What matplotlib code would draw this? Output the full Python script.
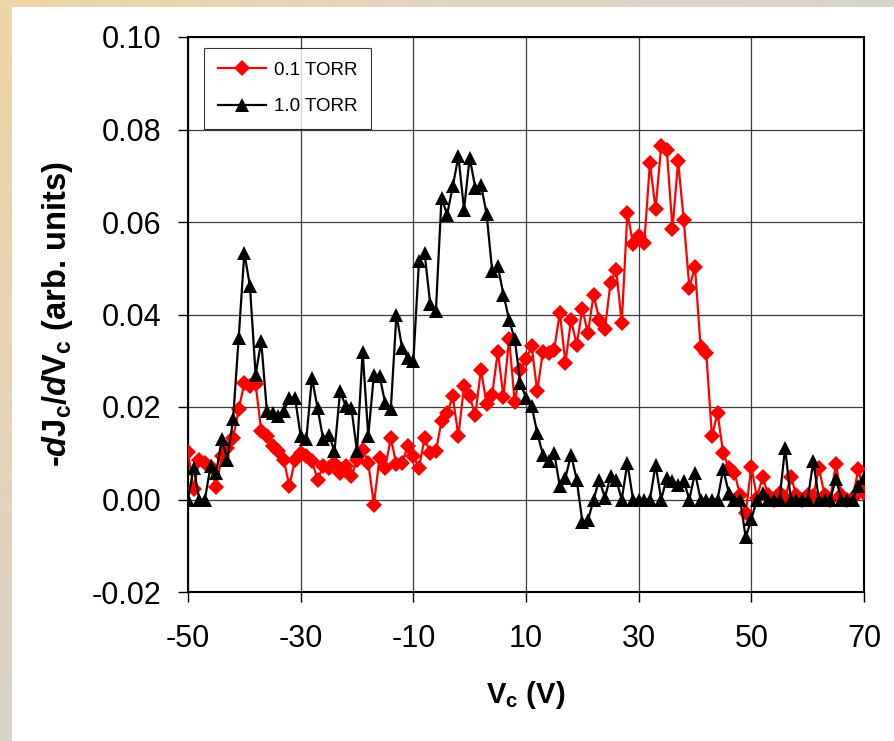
import numpy as np
import matplotlib
matplotlib.use("Agg")
import matplotlib.pyplot as plt
from matplotlib.colors import LinearSegmentedColormap

# ---------------- data ----------------
voltage = list(range(-50, 71))

torr_01 = [
    0.0102, 0.0022, 0.0086, 0.0079, 0.0070, 0.0027, 0.0094, 0.0112, 0.0133, 0.0195,   # -50..-41
    0.0251, 0.0245, 0.0250, 0.0148, 0.0137, 0.0115, 0.0104, 0.0086, 0.0029, 0.0086,   # -40..-31
    0.0101, 0.0094, 0.0083, 0.0043, 0.0072, 0.0068, 0.0079, 0.0058, 0.0072, 0.0050,   # -30..-21
    0.0086, 0.0108, 0.0079, -0.0011, 0.0090, 0.0068, 0.0133, 0.0076, 0.0079, 0.0115,  # -20..-11
    0.0094, 0.0068, 0.0133, 0.0101, 0.0104, 0.0169, 0.0187, 0.0223, 0.0137, 0.0245,   # -10..-1
    0.0223, 0.0182, 0.0281, 0.0207, 0.0227, 0.0320, 0.0222, 0.0348, 0.0210, 0.0281,   # 0..9
    0.0303, 0.0331, 0.0234, 0.0320, 0.0317, 0.0324, 0.0404, 0.0296, 0.0389, 0.0334,   # 10..19
    0.0412, 0.0359, 0.0443, 0.0389, 0.0368, 0.0468, 0.0497, 0.0382, 0.0620, 0.0553,   # 20..29
    0.0569, 0.0555, 0.0728, 0.0628, 0.0764, 0.0755, 0.0585, 0.0731, 0.0605, 0.0458,   # 30..39
    0.0503, 0.0329, 0.0317, 0.0137, 0.0187, 0.0101, 0.0068, 0.0058, 0.0010, -0.0029,  # 40..49
    0.0071, 0.0004, 0.0049, 0.0010, 0.0000, 0.0014, 0.0004, 0.0049, 0.0010, 0.0000,   # 50..59
    0.0010, 0.0007, 0.0068, 0.0010, 0.0000, 0.0076, 0.0010, 0.0000, 0.0004, 0.0065,   # 60..69
    0.0014,                                                                           # 70
]

torr_10 = [
    0.0000, 0.0069, 0.0000, 0.0000, 0.0072, 0.0058, 0.0130, 0.0086, 0.0173, 0.0350,   # -50..-41
    0.0533, 0.0461, 0.0270, 0.0342, 0.0191, 0.0188, 0.0180, 0.0191, 0.0220, 0.0220,   # -40..-31
    0.0137, 0.0130, 0.0263, 0.0198, 0.0130, 0.0140, 0.0104, 0.0234, 0.0202, 0.0198,   # -30..-21
    0.0104, 0.0320, 0.0137, 0.0270, 0.0267, 0.0209, 0.0195, 0.0400, 0.0328, 0.0306,   # -20..-11
    0.0299, 0.0515, 0.0533, 0.0422, 0.0407, 0.0652, 0.0616, 0.0677, 0.0742, 0.0627,   # -10..-1
    0.0739, 0.0674, 0.0681, 0.0618, 0.0494, 0.0504, 0.0443, 0.0389, 0.0346, 0.0252,   # 0..9
    0.0220, 0.0202, 0.0144, 0.0097, 0.0083, 0.0101, 0.0029, 0.0047, 0.0097, 0.0043,   # 10..19
    -0.0048, -0.0045, 0.0000, 0.0043, 0.0004, 0.0050, 0.0043, 0.0000, 0.0079, 0.0000, # 20..29
    0.0000, 0.0000, 0.0000, 0.0075, 0.0000, 0.0047, 0.0040, 0.0032, 0.0040, 0.0000,   # 30..39
    0.0058, 0.0000, 0.0000, 0.0000, 0.0000, 0.0065, 0.0015, 0.0000, 0.0000, -0.0082,  # 40..49
    -0.0043, 0.0000, 0.0015, 0.0000, 0.0000, 0.0000, 0.0112, 0.0000, 0.0000, 0.0000,  # 50..59
    0.0000, 0.0083, 0.0000, 0.0000, 0.0000, 0.0045, 0.0000, 0.0000, 0.0000, 0.0029,   # 60..69
    0.0047,                                                                           # 70
]

series_labels = ["0.1 TORR", "1.0 TORR"]
x_ticks = [-50, -30, -10, 10, 30, 50, 70]
y_ticks = [-0.02, 0.00, 0.02, 0.04, 0.06, 0.08, 0.10]
y_tick_labels = ["-0.02", "0.00", "0.02", "0.04", "0.06", "0.08", "0.10"]

# ---------------- style ----------------
plt.rcParams['font.family'] = ['Liberation Sans', 'DejaVu Sans']
plt.rcParams['axes.unicode_minus'] = False
plt.rcParams['mathtext.fontset'] = 'custom'
plt.rcParams['mathtext.rm'] = 'Liberation Sans:bold'
plt.rcParams['mathtext.bf'] = 'Liberation Sans:bold'
plt.rcParams['mathtext.it'] = 'Liberation Sans:bold:italic'

W, H = 894, 741
fig = plt.figure(figsize=(W / 100, H / 100), dpi=100, facecolor='white')

# decorative background strips
bg = fig.add_axes([0, 0, 1, 1], zorder=-10)
bg.set_xlim(0, W)
bg.set_ylim(H, 0)
bg.axis('off')
cm_left = LinearSegmentedColormap.from_list('l', ['#EDD5A6', '#E6D3B4', '#D9D3CB'])
cm_top = LinearSegmentedColormap.from_list('t', ['#EDD5A6', '#E2D6C2', '#D6D3CF'])
bg.imshow(np.linspace(0, 1, 256).reshape(-1, 1), extent=[0, 12, H, 0], cmap=cm_left, aspect='auto')
bg.imshow(np.linspace(0, 1, 256).reshape(1, -1), extent=[0, W, 7, 0], cmap=cm_top, aspect='auto')

ax = fig.add_axes([188 / W, 1 - 592 / H, 676 / W, 555 / H])
ax.set_facecolor('white')

ax.plot(voltage, torr_01, color='#FF0000', lw=1.6, marker='D', markersize=8.0,
        markeredgewidth=0, label=series_labels[0], zorder=3)
ax.plot(voltage, torr_10, color='black', lw=1.6, marker='^', markersize=10.5,
        markeredgewidth=0, label=series_labels[1], zorder=4)

ax.set_xlim(-50, 70)
ax.set_ylim(-0.02, 0.10)
ax.set_xticks(x_ticks)
ax.set_yticks(y_ticks)
ax.set_yticklabels(y_tick_labels)
ax.grid(True, color='#3c3c3c', lw=0.9)
ax.set_axisbelow(True)
for s in ax.spines.values():
    s.set_linewidth(1.5)
    s.set_color('black')
ax.tick_params(axis='both', direction='out', length=7, width=1.0, labelsize=22)
ax.tick_params(axis='y', pad=12)
ax.tick_params(axis='x', pad=16)

ax.set_xlabel(r'V$_{\mathrm{c}}$ (V)', fontsize=21, fontweight='bold', labelpad=18)
ax.set_ylabel(r'-$\mathit{d}$J$_{\mathrm{c}}$/$\mathit{d}$V$_{\mathrm{c}}$ (arb. units)',
              fontsize=23.5, fontweight='bold', labelpad=12)

leg = ax.legend(loc='upper left', bbox_to_anchor=(16 / 676, 1 - 11 / 555),
                borderaxespad=0, fontsize=13.5, frameon=True, fancybox=False,
                handlelength=2.6, handletextpad=0.4, labelspacing=1.05,
                borderpad=0.72)
leg.get_frame().set_edgecolor('black')
leg.get_frame().set_linewidth(0.8)

fig.savefig('out.png', dpi=100, facecolor='white')
